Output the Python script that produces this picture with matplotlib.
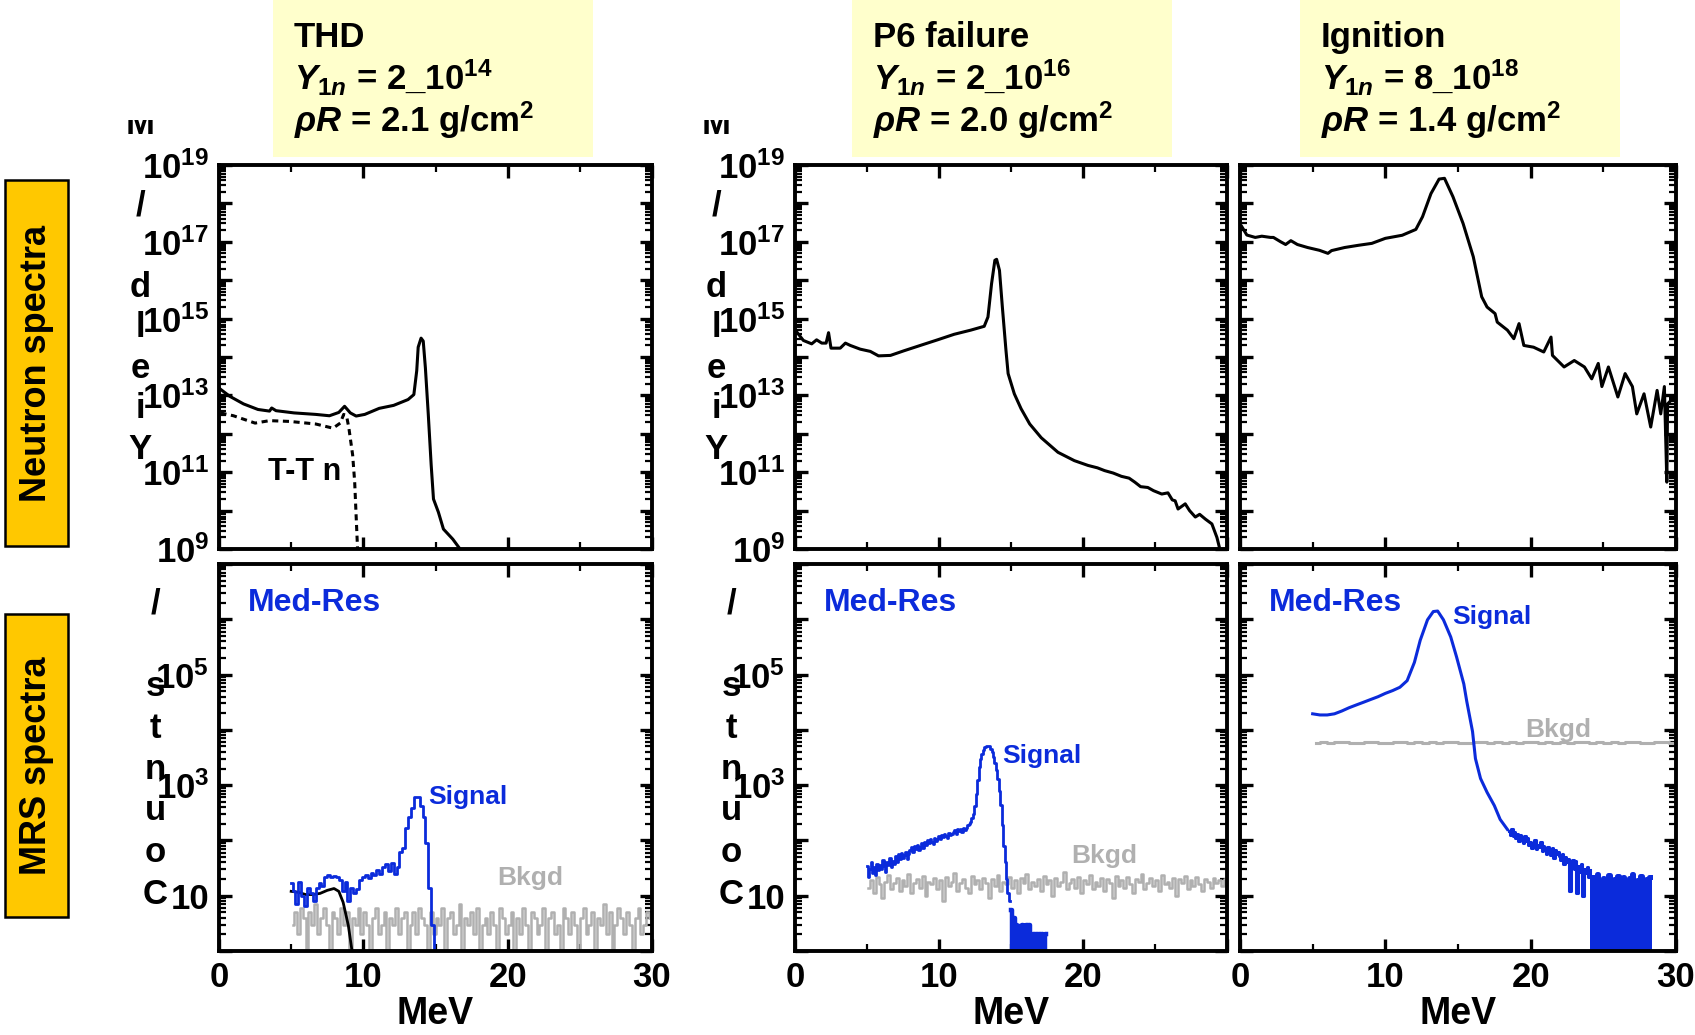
import numpy as np
import matplotlib
matplotlib.use('Agg')
import matplotlib.pyplot as plt
from matplotlib.patches import Rectangle
from matplotlib.ticker import FixedLocator, FixedFormatter, LogLocator, NullFormatter
from matplotlib.transforms import Bbox, TransformedBbox

plt.rcParams['font.family'] = ['Liberation Sans', 'DejaVu Sans']
plt.rcParams['font.weight'] = 'bold'
plt.rcParams['axes.labelweight'] = 'bold'
plt.rcParams['mathtext.fontset'] = 'custom'
plt.rcParams['mathtext.rm'] = 'Liberation Sans:bold'
plt.rcParams['mathtext.it'] = 'Liberation Sans:bold:italic'
plt.rcParams['mathtext.bf'] = 'Liberation Sans:bold'

# ---------------- data ----------------
case_names = ['THD', 'P6 failure', 'Ignition']
case_yield = [r'$\mathit{Y_{1n}}$ = 2_$10^{14}$',
              r'$\mathit{Y_{1n}}$ = 2_$10^{16}$',
              r'$\mathit{Y_{1n}}$ = 8_$10^{18}$']
case_rhoR = [r'$\mathit{\rho R}$ = 2.1 g/cm$^2$',
             r'$\mathit{\rho R}$ = 2.0 g/cm$^2$',
             r'$\mathit{\rho R}$ = 1.4 g/cm$^2$']

# neutron spectra (MeV, yield / MeV)
thd_e = [0.1, 0.74, 1.7, 2.7, 3.5, 3.65, 3.95, 5.2, 6.7, 7.65, 8.3, 8.7, 9.1, 9.5, 10.1,
         11.1, 12.1, 13.1, 13.5, 13.7, 13.8, 14.0, 14.15, 14.3, 14.5, 14.7, 14.86, 15.2,
         15.55, 16.2, 16.7, 17.0]
thd_y = [1.45e13, 9.5e12, 6.0e12, 4.3e12, 3.9e12, 4.7e12, 4.0e12, 3.5e12, 3.2e12, 2.95e12,
         3.6e12, 5.2e12, 3.5e12, 2.9e12, 3.2e12, 4.6e12, 5.5e12, 7.8e12, 1.05e13, 4.4e13,
         1.8e14, 3.1e14, 2.6e14, 5.2e13, 3.2e12, 1.55e11, 2.0e10, 9.1e9, 3.3e9, 1.8e9,
         1.0e9, 6.3e8]
tt_e = [0.1, 1.0, 2.5, 3.5, 4.9, 6.7, 7.9, 8.4, 8.64, 8.84, 9.0, 9.26, 9.4, 9.5, 9.6, 9.65]
tt_y = [3.5e12, 2.95e12, 1.9e12, 2.2e12, 2.1e12, 1.8e12, 1.4e12, 1.9e12, 3.2e12, 2.9e12,
        1.4e12, 2.8e11, 5.6e10, 7.4e9, 1.0e9, 6.0e8]
p6_e = [0.12, 0.58, 1.16, 1.5, 1.86, 2.16, 2.33, 2.5, 3.14, 3.5, 3.84, 4.53, 5.23, 5.8,
        6.63, 7.56, 8.7, 9.9, 11.05, 12.2, 13.14, 13.4, 13.65, 13.88, 14.0, 14.2, 14.4,
        14.65, 14.8, 15.23, 15.7, 16.3, 17.1, 18.26, 19.4, 20.35, 21.0, 21.5, 22.1, 22.67,
        23.2, 23.6, 24.0, 24.5, 24.9, 25.47, 25.9, 26.2, 26.4, 26.6, 27.1, 27.4, 27.8, 28.1,
        28.5, 28.95, 29.3, 29.5, 29.6]
p6_y = [4.5e14, 2.7e14, 2.2e14, 2.8e14, 2.3e14, 2.3e14, 4.3e14, 1.7e14, 1.7e14, 2.3e14,
        2.0e14, 1.6e14, 1.4e14, 1.07e14, 1.1e14, 1.45e14, 2.0e14, 2.8e14, 3.9e14, 5.0e14,
        6.3e14, 1.1e15, 8.1e15, 3.3e16, 3.5e16, 1.8e16, 2.0e15, 1.5e14, 3.7e13, 1.1e13,
        4.5e12, 1.8e12, 7.9e11, 3.3e11, 2.0e11, 1.5e11, 1.3e11, 1.1e11, 9.5e10, 7.8e10,
        7.0e10, 5.5e10, 4.2e10, 4.0e10, 3.3e10, 2.7e10, 2.9e10, 1.9e10, 1.8e10, 1.1e10,
        1.5e10, 1.0e10, 6.8e9, 8.0e9, 6.0e9, 4.5e9, 2.0e9, 1.0e9, 6.0e8]
ign_e = [0.12, 0.47, 1.05, 1.5, 2.1, 2.3, 2.8, 3.14, 3.5, 3.95, 4.65, 5.47, 6.05, 6.3, 7.2,
         8.14, 9.07, 10.0, 11.16, 12.1, 12.56, 13.14, 13.7, 14.07, 14.65, 15.35, 16.05,
         16.63, 17.0, 17.55, 17.7, 18.4, 18.84, 19.2, 19.53, 20.2, 20.9, 21.4, 21.5, 22.3,
         23.0, 23.7, 24.2, 24.65, 24.9, 25.35, 26.0, 26.5, 27.0, 27.3, 27.8, 28.26, 28.7,
         28.95, 29.2, 29.37, 29.42, 29.65]
ign_y = [2.5e17, 1.5e17, 1.3e17, 1.4e17, 1.3e17, 1.3e17, 1.0e17, 8.5e16, 1.07e17, 8.5e16,
         7.1e16, 6.0e16, 5.0e16, 5.9e16, 7.1e16, 8.1e16, 9.1e16, 1.23e17, 1.48e17, 2.1e17,
         4.5e17, 1.8e18, 4.3e18, 4.5e18, 1.5e18, 3.0e17, 4.1e16, 3.7e15, 2.0e15, 1.35e15,
         8.1e14, 5.0e14, 3.0e14, 7.4e14, 2.0e14, 1.8e14, 1.35e14, 3.3e14, 1.1e14, 5.5e13,
         8.1e13, 5.5e13, 2.7e13, 6.8e13, 1.7e13, 5.5e13, 9.1e12, 3.7e13, 1.7e13, 3.3e12,
         1.1e13, 1.5e12, 1.35e13, 3.3e12, 1.7e13, 5.5e10, 6.0e12, 7.4e12]

# MRS spectra (counts / MeV); binned spectra start at 5 MeV
thd_sig = [17, 12, 7, 18, 10, 6.6, 14, 11, 8, 14, 17, 15, 22, 24, 22, 23, 22, 19, 12, 18,
           8, 14, 11, 13, 19, 22, 24, 21, 26, 24, 29, 25, 33, 38, 28, 39, 25, 33, 63, 73,
           170, 260, 390, 600, 600, 420, 260, 90, 14, 3, 0.5]
thd_tt_e = [5.0, 5.5, 6.0, 6.5, 7.0, 7.5, 7.97, 8.3, 8.6, 8.96, 9.2, 9.3]
thd_tt_c = [12, 11.5, 10.5, 10.5, 11, 12.5, 13.5, 12, 7.6, 2.9, 1.07, 0.8]
thd_bkg = [3, 5, 2, 6, 4, 1, 5, 3, 7, 2, 4, 6, 3, 1, 5, 4, 2, 6, 3, 5,
           1, 4, 3, 6, 2, 5, 3, 1, 4, 6, 2, 3, 5, 1, 4, 3, 6, 2, 4, 5,
           1, 3, 5, 2, 6, 4, 3, 1, 5, 2, 4, 3, 6, 1, 4, 5, 2, 3, 7, 1,
           4, 3, 5, 2, 6, 1, 3, 4, 2, 5, 3, 1, 6, 4, 2, 3, 5, 1, 4, 2,
           6, 3, 1, 5, 4, 2, 3, 6, 1, 4, 5, 2, 3, 1, 6, 4, 2, 5, 3, 1,
           4, 6, 2, 3, 5, 1, 4, 3, 7, 2, 5, 1, 3, 6, 4, 2, 5, 3, 1, 4,
           6, 2, 3, 5, 4]
p6_sig = [35, 22, 30, 41, 26, 33, 24, 38, 29, 36,
          31, 44, 34, 27, 40, 36, 48, 33, 42, 38,
          52, 41, 57, 46, 60, 49, 55, 63, 47, 58,
          66, 75, 61, 80, 70, 84, 68, 77, 88, 72,
          92, 84, 101, 90, 108, 95, 87, 112, 99, 105,
          118, 106, 125, 113, 131, 120, 110, 136, 124, 129,
          140, 152, 133, 158, 146, 162, 141, 170, 155, 165,
          190, 200, 215, 250, 300, 420, 700, 1250, 2100, 3000,
          3600, 4300, 4800, 5100, 5100, 5000, 4500, 4000, 3200, 2500,
          1900, 1300, 780, 430, 190, 80, 40, 20, 11, 8]
p6_tail = [5.6, 0.5, 4, 0.5, 3, 0.5, 2.8, 0.5, 3, 0.5,
           0.5, 3, 0.5, 3, 0.5, 0.5, 2, 0.5, 2, 0.5,
           2, 0.5, 2, 0.5, 2]
p6_bkg = [14, 19, 11, 22, 16, 9, 18, 24, 13, 17, 21, 12, 19, 15, 25, 11, 17, 20, 14, 23,
          10, 18, 16, 21, 13, 19, 8, 22, 15, 18, 26, 12, 17, 20, 14, 11, 23, 16, 19, 13,
          21, 17, 9, 20, 15, 24, 12, 18, 16, 22, 14, 19, 11, 21, 17, 25, 13, 18, 15, 20,
          12, 23, 16, 19, 10, 21, 15, 18, 27, 13, 17, 20, 14, 22, 11, 19, 16, 24, 13, 18,
          15, 21, 12, 20, 17, 9, 23, 15, 19, 14, 22, 16, 11, 20, 18, 25, 13, 17, 21, 15,
          19, 12, 24, 16, 18, 14, 21, 10, 20, 17, 23, 13, 19, 15, 22, 16, 12, 20, 18, 14,
          21, 17, 19, 15, 20]
ign_sig_e = [5.0, 5.5, 6.0, 6.5, 7.0, 7.5, 8.0, 8.5, 9.0, 9.5, 10.0, 10.5, 11.0, 11.5, 12.0,
             12.4, 12.9, 13.3, 13.6, 14.0, 14.5, 14.9, 15.4, 15.6, 16.0, 16.2, 16.55, 17.0,
             17.5, 17.9, 18.4]
ign_sig_c = [19500, 18600, 18600, 19500, 21900, 25100, 28200, 31600, 35500, 39800, 45700,
             51300, 58900, 77600, 166000, 417000, 977000, 1380000, 1410000, 977000, 479000,
             209000, 67600, 33100, 9330, 3020, 1320, 741, 427, 240, 158]
ign_tail = [150, 128, 162, 118, 140,
            112, 131, 96, 124, 105, 88, 118, 99, 110, 84,
            95, 72, 88, 101, 69, 83, 76, 92, 64, 80,
            70, 58, 77, 62, 54, 73, 49, 66, 57, 61,
            52, 44, 58, 38, 50, 41, 47, 12, 36, 45,
            30, 42, 11, 35, 27, 38, 10, 31, 26, 33,
            22, 29]
ign_block = [22, 0.5, 18, 0.5, 25, 0.5, 16, 0.5, 21, 0.5, 19, 0.5, 24, 0.5, 17, 0.5, 20, 0.5,
             23, 0.5, 15, 0.5, 22, 0.5, 18, 0.5, 21, 0.5, 25, 0.5, 17, 0.5, 19, 0.5, 23, 0.5,
             16, 0.5, 20, 0.5, 22]
ign_bkg = [5900, 6000, 5850, 5950, 6050, 5900, 5800, 5950, 6000, 5900,
           5850, 6000, 5950, 5900, 6050, 5850, 5950, 5900, 6000, 5950,
           5900, 5850, 6000, 5950, 5900, 6050, 5900, 5950, 5850, 6000,
           5950, 5900, 6000, 5850, 5950, 5900, 6050, 5950, 5900, 6000,
           5850, 5950, 5900, 6000, 5950, 5900, 5850, 6000, 5950, 5900]

# label positions (MeV, value)
signal_pos = [(14.5, 600), (14.4, 3400), (14.6, 1.1e6)]
bkgd_pos = [(19.3, 21), (19.2, 52), (19.6, 1.0e4)]

# ---------------- figure ----------------
W, H = 1695, 1035
fig = plt.figure(figsize=(W / 100, H / 100), dpi=100)

cols = [(219, 652), (795, 1227), (1240, 1676)]
rows = [(165, 549), (564, 951)]
blue = '#0B2BDB'
gray = '#B0B0B0'


def fig_box(x0, x1, y0, y1):
    return [x0 / W, 1 - y1 / H, (x1 - x0) / W, (y1 - y0) / H]


def style(ax):
    ax.set_xlim(0, 30)
    ax.set_yscale('log')
    for s in ax.spines.values():
        s.set_linewidth(2.8)
    ax.tick_params(which='both', direction='in', top=True, right=True, labelsize=25, pad=7)
    ax.tick_params(which='major', length=9, width=2.4)
    ax.tick_params(which='minor', length=5, width=1.6)
    ax.xaxis.set_major_locator(FixedLocator([0, 10, 20, 30]))
    ax.xaxis.set_minor_locator(FixedLocator([5, 15, 25]))
    ax.yaxis.set_minor_locator(LogLocator(base=10, subs=(2, 3, 4, 5, 6, 7, 8, 9), numticks=100))
    ax.yaxis.set_minor_formatter(NullFormatter())


top_exp = list(range(9, 20))
bot_exp = list(range(0, 8))
top_labels = [r'$10^{%d}$' % e if e % 2 == 1 else '' for e in top_exp]
bot_labels = ['', '10', '', r'$10^{3}$', '', r'$10^{5}$', '', '']

spectra = [(thd_e, thd_y), (p6_e, p6_y), (ign_e, ign_y)]
axes_top, axes_bot = [], []
for i in range(3):
    x0, x1 = cols[i]
    at = fig.add_axes(fig_box(x0, x1, *rows[0]))
    style(at)
    at.set_ylim(1e9, 1e19)
    at.yaxis.set_major_locator(FixedLocator([10.0 ** e for e in top_exp]))
    at.yaxis.set_major_formatter(FixedFormatter(top_labels if i < 2 else [''] * len(top_exp)))
    at.set_xticklabels([])
    at.plot(spectra[i][0], spectra[i][1], color='black', lw=2.2)
    axes_top.append(at)

    ab = fig.add_axes(fig_box(x0, x1, *rows[1]))
    style(ab)
    ab.set_ylim(1, 1e7)
    ab.yaxis.set_major_locator(FixedLocator([10.0 ** e for e in bot_exp]))
    ab.yaxis.set_major_formatter(FixedFormatter(bot_labels if i < 2 else [''] * len(bot_exp)))
    ab.set_xticklabels(['0', '10', '20', ''] if i == 1 else ['0', '10', '20', '30'])
    ab.set_xlabel('MeV', fontsize=27, fontweight='bold', labelpad=2)
    ab.text(2.0, 10 ** 6.3, 'Med-Res', color=blue, fontsize=23, va='center')
    ab.text(signal_pos[i][0], signal_pos[i][1], 'Signal', color=blue, fontsize=19, va='center')
    ab.text(bkgd_pos[i][0], bkgd_pos[i][1], 'Bkgd', color=gray, fontsize=19, va='center')
    axes_bot.append(ab)

# THD extras
axes_top[0].plot(tt_e, tt_y, color='black', lw=2.2, ls=(0, (2, 1.5)))
axes_top[0].text(3.4, 1e11, 'T-T n', fontsize=22, va='center')

ab = axes_bot[0]
ab.step(5.1 + 0.2 * np.arange(len(thd_bkg)), thd_bkg, where='mid', color=gray, lw=1.8)
ab.plot(thd_tt_e, thd_tt_c, color='black', lw=2.0)
ab.step(5.0 + 0.2 * np.arange(len(thd_sig)), thd_sig, where='mid', color=blue, lw=2.0)

ab = axes_bot[1]
ab.step(5.1 + 0.2 * np.arange(len(p6_bkg)), p6_bkg, where='mid', color=gray, lw=1.8)
ab.step(5.0 + 0.1 * np.arange(len(p6_sig)), p6_sig, where='mid', color=blue, lw=2.0)
ab.step(15.0 + 0.1 * np.arange(len(p6_tail)), p6_tail, where='mid', color=blue, lw=3.2)

ab = axes_bot[2]
ab.step(5.25 + 0.5 * np.arange(len(ign_bkg)), ign_bkg, where='mid', color=gray, lw=2.2)
ab.plot(ign_sig_e, ign_sig_c, color=blue, lw=2.2)
ab.step(18.5 + 0.1 * np.arange(len(ign_tail)), ign_tail, where='mid', color=blue, lw=2.2)
ab.step(24.2 + 0.1 * np.arange(len(ign_block)), ign_block, where='mid', color=blue, lw=3.6)

# header boxes
header_x = [273, 852, 1300]
for i, hx in enumerate(header_x):
    fig.patches.append(Rectangle((hx / W, 1 - 157 / H), 320 / W, 157 / H,
                                 transform=fig.transFigure, fc='#FFFFCC', ec='none', zorder=0))
    for txt, base in zip([case_names[i], case_yield[i], case_rhoR[i]], [47, 90, 132]):
        fig.text((hx + 21) / W, 1 - base / H, txt, fontsize=25, va='baseline', ha='left')

# row label boxes
for (y0, y1), lab in zip([(180, 546), (614, 917)], ['Neutron spectra', 'MRS spectra']):
    fig.patches.append(Rectangle((5 / W, 1 - y1 / H), 63 / W, (y1 - y0) / H,
                                 transform=fig.transFigure, fc='#FFC800', ec='black', lw=1.8))
    fig.text(36.5 / W, 1 - (y0 + y1) / 2 / H, lab, rotation=90, fontsize=26,
             ha='center', va='center')

# stacked axis titles
for i in range(2):
    px = cols[i][0]
    for k, ch in enumerate('Yield / MeV'):
        if ch == ' ':
            continue
        t = fig.text((px - 79) / W, 1 - (449 - 40.5 * k) / H, ch, fontsize=25,
                     ha='center', va='center')
        t.set_clip_box(TransformedBbox(Bbox([[0, 1 - 549 / H], [1, 1 - 120 / H]]), fig.transFigure))
        t.set_clip_on(True)
    for k, ch in enumerate('Counts / MeV'):
        if ch == ' ':
            continue
        t = fig.text((px - 64) / W, 1 - (894 - 41.5 * k) / H, ch, fontsize=25,
                     ha='center', va='center')
        t.set_clip_box(TransformedBbox(Bbox([[0, 0], [1, 1 - 560 / H]]), fig.transFigure))
        t.set_clip_on(True)

fig.savefig('out.png', dpi=100)
